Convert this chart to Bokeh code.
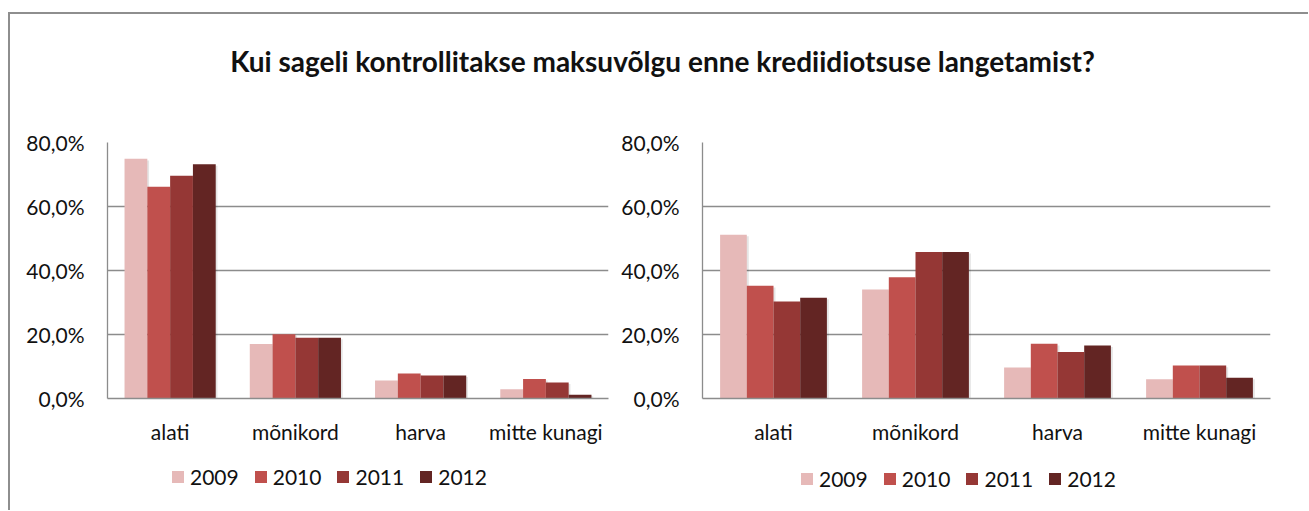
from bokeh.plotting import figure
from bokeh.models import FactorRange, Range1d, FixedTicker, Legend, LegendItem, Label, ColumnDataSource
from bokeh.transform import dodge
from bokeh.layouts import column, row
from bokeh.embed import file_html
from bokeh.resources import INLINE

# ---------------- data ----------------
title_text = "Kui sageli kontrollitakse maksuvõlgu enne krediidiotsuse langetamist?"
categories = ["alati", "mõnikord", "harva", "mitte kunagi"]
years = ["2009", "2010", "2011", "2012"]

left_2009 = [74.9, 17.0, 5.6, 2.9]
left_2010 = [66.2, 20.1, 7.8, 6.1]
left_2011 = [69.6, 19.0, 7.2, 5.0]
left_2012 = [73.2, 19.0, 7.2, 1.2]

right_2009 = [51.2, 34.1, 9.7, 6.0]
right_2010 = [35.2, 37.9, 17.1, 10.3]
right_2011 = [30.3, 45.8, 14.5, 10.3]
right_2012 = [31.5, 45.8, 16.6, 6.5]

y_ticks = [0, 20, 40, 60, 80]
y_tick_labels = ["0,0%", "20,0%", "40,0%", "60,0%", "80,0%"]

# ---------------- style ----------------
colors = ["#E6B9B8", "#C0504D", "#953735", "#632523"]
GRID = "#8c8c8c"
FONT = "Lato"
TXT = "#111111"
FS = "21px"


def make_chart(series, width, height, mbl, mbr, mbt, mbb, bar_w):
    p = figure(x_range=FactorRange(*categories), y_range=Range1d(0, 80),
               width=width, height=height, output_backend="svg", toolbar_location=None,
               min_border_left=mbl, min_border_right=mbr, min_border_top=mbt, min_border_bottom=mbb)
    p.outline_line_color = None
    p.background_fill_color = "white"
    p.border_fill_color = "white"
    p.xgrid.grid_line_color = None
    p.ygrid.grid_line_color = GRID
    p.ygrid.grid_line_width = 1.3
    p.ygrid.ticker = FixedTicker(ticks=y_ticks)

    p.yaxis.ticker = FixedTicker(ticks=y_ticks)
    p.yaxis.major_label_overrides = {t: l for t, l in zip(y_ticks, y_tick_labels)}
    p.yaxis.axis_line_color = GRID
    p.yaxis.axis_line_width = 1.3
    p.yaxis.major_tick_line_color = None
    p.yaxis.minor_tick_line_color = None
    p.yaxis.major_tick_out = 0
    p.yaxis.major_tick_in = 0
    p.yaxis.major_label_standoff = 23
    p.yaxis.major_label_text_font = FONT
    p.yaxis.major_label_text_font_size = FS
    p.yaxis.major_label_text_color = TXT

    p.xaxis.axis_line_color = GRID
    p.xaxis.axis_line_width = 1.3
    p.xaxis.major_tick_line_color = None
    p.xaxis.minor_tick_line_color = None
    p.xaxis.major_tick_out = 0
    p.xaxis.major_tick_in = 0
    p.xaxis.major_label_standoff = 20
    p.xaxis.major_label_text_font = FONT
    p.xaxis.major_label_text_font_size = FS
    p.xaxis.major_label_text_color = TXT

    data = {"cat": categories}
    for y, vals in zip(years, series):
        data[y] = vals
        data[y + "_sh"] = [v - 0.5 for v in vals]
    src = ColumnDataSource(data=data)

    offsets = [(-1.5 + i) * bar_w for i in range(4)]
    # soft shadow
    for i, y in enumerate(years):
        p.vbar(x=dodge("cat", offsets[i] + 0.014, range=p.x_range), top=y + "_sh", bottom=-1,
               width=bar_w, source=src, fill_color="black", fill_alpha=0.10, line_color=None)
    for i, y in enumerate(years):
        p.vbar(x=dodge("cat", offsets[i], range=p.x_range), top=y, width=bar_w, source=src,
               fill_color=colors[i], line_color=None)
    return p


def make_legend(width, height, loc, spacing):
    q = figure(width=width, height=height, x_range=Range1d(0, 1), y_range=Range1d(0, 1),
               output_backend="svg", toolbar_location=None, x_axis_type=None, y_axis_type=None,
               min_border=0)
    q.outline_line_color = None
    q.grid.visible = False
    # legend-only glyphs, kept outside the visible range
    dummy = ColumnDataSource(data=dict(x=[-5.0], top=[-5.0]))
    items = []
    for i, y in enumerate(years):
        r = q.vbar(x="x", top="top", width=0.1, source=dummy, fill_color=colors[i], line_color=None)
        items.append(LegendItem(label=y, renderers=[r]))
    leg = Legend(items=items, orientation="horizontal", location=loc,
                 glyph_width=15, glyph_height=15, label_standoff=5, spacing=spacing,
                 padding=0, margin=0, border_line_color=None, background_fill_alpha=0,
                 label_text_font=FONT, label_text_font_size=FS, label_text_color=TXT)
    q.add_layout(leg)
    return q


left = make_chart([left_2009, left_2010, left_2011, left_2012], 605, 332, 97, 7, 22, 54, 0.182)
right = make_chart([right_2009, right_2010, right_2011, right_2012], 693, 332, 87, 38, 21, 53, 0.188)
left_leg = make_legend(605, 58, (160, 21), 14)
right_leg = make_legend(693, 58, (184, 19), 14)

top = figure(width=1298, height=106, x_range=Range1d(0, 1), y_range=Range1d(0, 1),
             output_backend="svg", toolbar_location=None, x_axis_type=None, y_axis_type=None,
             min_border=0)
top.outline_line_color = None
top.grid.visible = False
top.add_layout(Label(x=652, y=60, x_units="screen", y_units="screen", text=title_text,
                     text_align="center", text_baseline="middle", text_font=FONT,
                     text_font_size="28px", text_font_style="bold", text_color=TXT))

layout = column(top, row(left, right), row(left_leg, right_leg),
                styles={"border-left": "2px solid #8e8e8e", "border-top": "2px solid #8e8e8e",
                        "margin-top": "12px", "margin-left": "8px"})

open("out.html", "w").write(file_html(layout, INLINE))
